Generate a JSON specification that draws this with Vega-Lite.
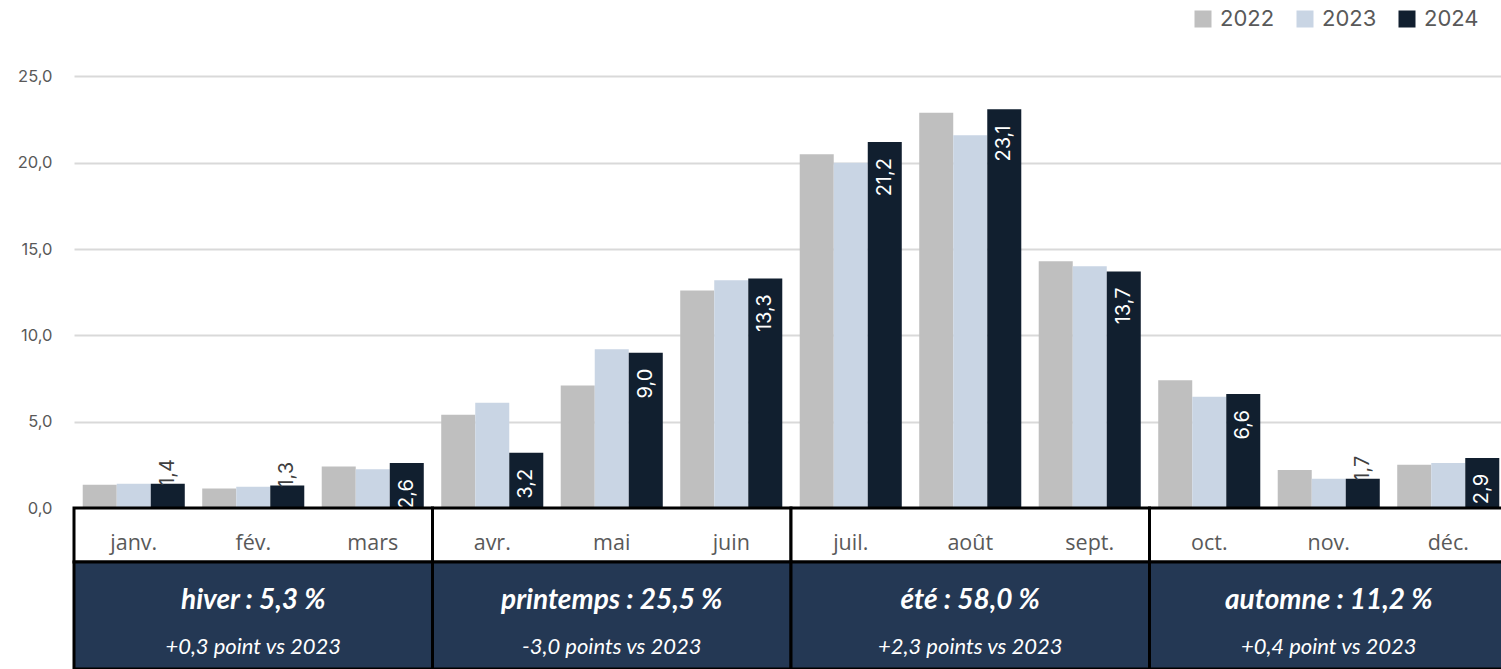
{
  "$schema": "https://vega.github.io/schema/vega-lite/v6.json",
  "padding": {"left": 5, "top": 0, "right": 0, "bottom": 0},
  "autosize": {"type": "pad"},
  "spacing": 0,
  "bounds": "flush",
  "config": {
    "locale": {"number": {"decimal": ",", "thousands": " ", "grouping": [3], "currency": ["", " €"]}},
    "view": {"stroke": null}
  },
  "resolve": {"legend": {"color": "independent"}},
  "datasets": {
    "monthly": [
      {"month": "janv.", "year": "2022", "value": 1.35},
      {"month": "janv.", "year": "2023", "value": 1.4},
      {"month": "janv.", "year": "2024", "value": 1.4},
      {"month": "fév.", "year": "2022", "value": 1.13},
      {"month": "fév.", "year": "2023", "value": 1.23},
      {"month": "fév.", "year": "2024", "value": 1.3},
      {"month": "mars", "year": "2022", "value": 2.4},
      {"month": "mars", "year": "2023", "value": 2.25},
      {"month": "mars", "year": "2024", "value": 2.6},
      {"month": "avr.", "year": "2022", "value": 5.4},
      {"month": "avr.", "year": "2023", "value": 6.1},
      {"month": "avr.", "year": "2024", "value": 3.2},
      {"month": "mai", "year": "2022", "value": 7.1},
      {"month": "mai", "year": "2023", "value": 9.2},
      {"month": "mai", "year": "2024", "value": 9.0},
      {"month": "juin", "year": "2022", "value": 12.6},
      {"month": "juin", "year": "2023", "value": 13.2},
      {"month": "juin", "year": "2024", "value": 13.3},
      {"month": "juil.", "year": "2022", "value": 20.5},
      {"month": "juil.", "year": "2023", "value": 20.0},
      {"month": "juil.", "year": "2024", "value": 21.2},
      {"month": "août", "year": "2022", "value": 22.9},
      {"month": "août", "year": "2023", "value": 21.6},
      {"month": "août", "year": "2024", "value": 23.1},
      {"month": "sept.", "year": "2022", "value": 14.3},
      {"month": "sept.", "year": "2023", "value": 14.0},
      {"month": "sept.", "year": "2024", "value": 13.7},
      {"month": "oct.", "year": "2022", "value": 7.4},
      {"month": "oct.", "year": "2023", "value": 6.45},
      {"month": "oct.", "year": "2024", "value": 6.6},
      {"month": "nov.", "year": "2022", "value": 2.2},
      {"month": "nov.", "year": "2023", "value": 1.7},
      {"month": "nov.", "year": "2024", "value": 1.7},
      {"month": "déc.", "year": "2022", "value": 2.5},
      {"month": "déc.", "year": "2023", "value": 2.6},
      {"month": "déc.", "year": "2024", "value": 2.9}
    ],
    "months": [
      {"month": "janv."}, {"month": "fév."}, {"month": "mars"}, {"month": "avr."},
      {"month": "mai"}, {"month": "juin"}, {"month": "juil."}, {"month": "août"},
      {"month": "sept."}, {"month": "oct."}, {"month": "nov."}, {"month": "déc."}
    ],
    "seasons": [
      {"season": "hiver", "from": 0, "to": 3, "title": "hiver : 5,3 %", "delta": "+0,3 point vs 2023"},
      {"season": "printemps", "from": 3, "to": 6, "title": "printemps : 25,5 %", "delta": "-3,0 points vs 2023"},
      {"season": "été", "from": 6, "to": 9, "title": "été : 58,0 %", "delta": "+2,3 points vs 2023"},
      {"season": "automne", "from": 9, "to": 12, "title": "automne : 11,2 %", "delta": "+0,4 point vs 2023"}
    ]
  },
  "vconcat": [
    {
      "width": 1434,
      "height": 508,
      "data": {"name": "monthly"},
      "encoding": {
        "x": {
          "field": "month", "type": "nominal",
          "sort": ["janv.", "fév.", "mars", "avr.", "mai", "juin", "juil.", "août", "sept.", "oct.", "nov.", "déc."],
          "scale": {"paddingInner": 0.146, "paddingOuter": 0.073},
          "axis": {"title": null, "labels": false, "ticks": false, "grid": false, "domainColor": "#000000", "domainWidth": 3}
        },
        "xOffset": {"field": "year", "type": "nominal", "scale": {"paddingInner": 0, "paddingOuter": 0}},
        "y": {
          "field": "value", "type": "quantitative",
          "scale": {"domain": [0, 29.43], "nice": false, "zero": true},
          "axis": {
            "title": null, "values": [0, 5, 10, 15, 20, 25], "format": ".1f",
            "domain": false, "ticks": false, "labelPadding": 22, "minExtent": 69,
            "labelFont": "Inter", "labelFontSize": 16.5, "labelColor": "#595959",
            "grid": true, "gridColor": "#D9D9D9", "gridWidth": 2
          }
        }
      },
      "layer": [
        {
          "mark": {"type": "bar"},
          "encoding": {
            "color": {
              "field": "year", "type": "nominal",
              "scale": {"domain": ["2022", "2023", "2024"], "range": ["#BFBFBF", "#C9D5E4", "#111F2F"]},
              "legend": {
                "title": null, "orient": "none", "legendX": 1118, "legendY": 8,
                "direction": "horizontal", "symbolType": "square", "symbolSize": 289,
                "symbolStrokeWidth": 0, "labelFont": "Inter", "labelFontSize": 22,
                "labelColor": "#595959", "labelOffset": 6, "columnPadding": 19
              }
            }
          }
        },
        {
          "transform": [{"filter": "datum.year == '2024' && datum.value >= 2"}],
          "mark": {"type": "text", "angle": 270, "align": "right", "baseline": "middle", "dx": -16, "font": "Inter", "fontSize": 20, "color": "#FFFFFF"},
          "encoding": {"text": {"field": "value", "type": "quantitative", "format": ".1f"}}
        },
        {
          "transform": [{"filter": "datum.year == '2024' && datum.value < 2"}],
          "mark": {"type": "text", "angle": 270, "align": "left", "baseline": "middle", "dx": -2, "font": "Inter", "fontSize": 20, "color": "#404040"},
          "encoding": {"text": {"field": "value", "type": "quantitative", "format": ".1f"}}
        }
      ]
    },
    {
      "width": 1434,
      "height": 54,
      "layer": [
        {
          "data": {"name": "seasons"},
          "mark": {"type": "rect", "fill": "#FFFFFF", "stroke": "#000000", "strokeWidth": 3},
          "encoding": {
            "x": {"field": "from", "type": "quantitative", "scale": {"domain": [0, 12], "nice": false, "zero": false}, "axis": null},
            "x2": {"field": "to"}
          }
        },
        {
          "data": {"name": "months"},
          "mark": {"type": "text", "font": "Open Sans", "fontSize": 21.5, "color": "#595959", "baseline": "middle", "dy": 9},
          "encoding": {
            "x": {"field": "month", "type": "nominal", "sort": null, "scale": {"paddingInner": 0.146, "paddingOuter": 0.073}, "axis": null},
            "text": {"field": "month", "type": "nominal"}
          }
        }
      ],
      "resolve": {"scale": {"x": "independent"}}
    },
    {
      "width": 1434,
      "height": 107,
      "data": {"name": "seasons"},
      "layer": [
        {
          "mark": {"type": "rect", "fill": "#243854", "stroke": "#000000", "strokeWidth": 3},
          "encoding": {
            "x": {"field": "from", "type": "quantitative", "scale": {"domain": [0, 12], "nice": false, "zero": false}, "axis": null},
            "x2": {"field": "to"}
          }
        },
        {
          "layer": [
            {
              "mark": {"type": "text", "font": "Lato", "fontStyle": "italic", "fontWeight": "bold", "fontSize": 28, "color": "#FFFFFF", "baseline": "middle", "dy": -15},
              "encoding": {
                "x": {"field": "season", "type": "nominal", "sort": null, "scale": {"paddingInner": 0, "paddingOuter": 0}, "axis": null},
                "text": {"field": "title", "type": "nominal"}
              }
            },
            {
              "mark": {"type": "text", "font": "Lato", "fontStyle": "italic", "fontSize": 22, "color": "#FFFFFF", "baseline": "middle", "dy": 31},
              "encoding": {
                "x": {"field": "season", "type": "nominal", "sort": null, "scale": {"paddingInner": 0, "paddingOuter": 0}, "axis": null},
                "text": {"field": "delta", "type": "nominal"}
              }
            }
          ]
        }
      ],
      "resolve": {"scale": {"x": "independent"}}
    }
  ]
}
